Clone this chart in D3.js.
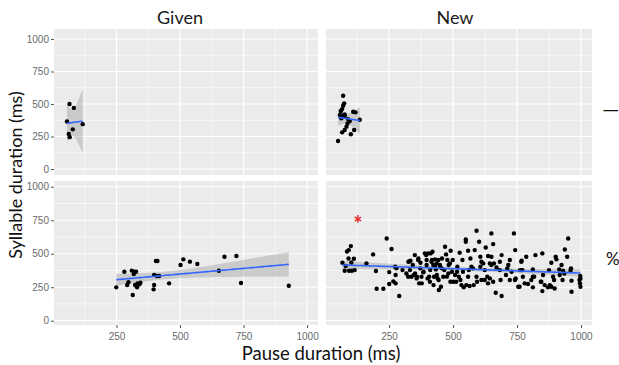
<!DOCTYPE html>
<html>
<head>
<meta charset="utf-8">
<script src="https://cdn.jsdelivr.net/npm/d3@7"></script>
<style>
body { margin: 0; background: #fff; }
svg { display: block; }
</style>
</head>
<body>
<script>
const columns = ["Given", "New"];
const rowLabels = ["\u2014", "%"];
const xTicks = [250, 500, 750, 1000];
const yTicks = [0, 250, 500, 750, 1000];
const minorTicks = [125, 375, 625, 875];

// [pause, syllable] in ms
const givenTop = [[65,500],[82,470],[55,365],[117,345],[78,305],[62,270],[66,245]];

const newTop = [[71,564],[75,505],[71,487],[67,461],[62,446],[58,415],[67,410],[77,420],
	[110,441],[119,436],[90,384],[97,369],[136,379],[88,351],[84,326],[77,300],[67,282],
	[114,300],[101,267],[51,215],[64,390],[77,402]];

const givenBottom = [[249,249],[281,366],[292,267],[297,287],[310,374],[318,349],[320,366],
	[327,366],[314,192],[323,267],[333,279],[340,272],[344,284],[331,249],[405,446],[411,446],
	[398,341],[409,334],[418,334],[398,267],[396,234],[457,279],[502,416],[513,458],[539,441],
	[568,423],[653,373],[675,478],[722,483],[740,281],[928,261]];

const newBottom = [
	[101,557],[93,527],[86,517],[92,465],[113,463],[68,433],[103,435],[81,408],[77,373],[94,373],
	[105,373],[116,378],[162,428],[188,495],[241,614],[260,535],[199,371],[251,363],[274,403],
	[202,239],[228,239],[251,274],[267,294],
	[276,341],[279,391],[276,279],[290,184],[303,378],[318,353],[328,440],[334,448],[325,328],
	[338,328],[347,341],[351,490],[358,316],[364,453],[368,279],[373,433],[377,328],[384,361],
	[390,503],[397,453],[397,416],[403,503],[407,328],[410,291],[413,503],[416,440],[420,515],
	[423,416],[426,328],[430,458],[433,383],[436,428],[440,316],[443,453],[445,229],[449,416],
	[453,254],[456,391],[462,328],[469,552],[473,495],[478,453],[482,353],[488,428],[491,522],
	[499,453],[501,291],[508,341],[512,291],[517,403],
	[592,672],[650,652],[738,652],[550,607],[550,590],[602,590],[657,572],[526,508],[559,522],
	[585,527],[628,547],[743,527],[537,453],[568,465],[607,478],[637,483],[650,478],[690,490],
	[611,440],[618,428],[644,428],[683,440],[722,453],[768,448],[572,403],[650,416],[670,398],
	[716,416],[516,366],[539,366],[578,391],[624,378],[683,378],[707,341],[729,366],[762,378],
	[523,328],[559,328],[592,328],[611,304],[644,316],[722,304],[742,304],[533,266],[542,249],
	[552,266],[565,259],[594,291],[624,304],[637,279],[657,291],[755,254],[667,209],[690,184],
	[950,614],[937,532],[901,478],[904,458],[786,478],[822,490],[849,503],[946,478],[767,440],
	[884,433],[924,416],[812,383],[875,378],[915,383],[930,373],[959,373],[767,378],[773,328],
	[812,328],[806,304],[852,341],[891,328],[917,341],[928,304],[963,299],[998,316],[996,279],
	[998,254],[780,279],[793,274],[845,291],[858,266],[871,249],[884,254],[897,241],[878,266],
	[812,249],[849,221],[963,216],[760,254],
	[326,441],[332,378],[343,416],[352,353],[359,329],[365,465],[372,391],[378,279],[385,366],
	[395,490],[401,316],[411,378],[418,453],[424,266],[431,416],[437,341],[444,304],[450,403],
	[457,465],[466,378],[476,329],[483,416],[490,291],[496,366],[529,304],[562,378],[581,266],
	[607,403],[634,329],[660,428],[686,304],[712,391],[745,316],[771,378],[817,329],[843,291],
	[895,304],[935,353],[961,391],[994,304],[997,334]];

const panelData = [[givenTop, newTop], [givenBottom, newBottom]];

const width = 619, height = 365;
const panelX = [[54, 318], [326, 592]];
const panelY = [[29, 175], [181, 325]];
const yDomains = [[-46, 1077], [-32, 1043]];
const xDomain = [4, 1043];

const svg = d3.select("body").append("svg")
	.attr("width", width)
	.attr("height", height)
	.style("font-family", "Lato, 'Open Sans', sans-serif");

// t quantile (0.975) by Cornish-Fisher expansion
function tq(df) {
	const z = 1.959964;
	const z3 = z*z*z, z5 = z3*z*z, z7 = z5*z*z;
	return z + (z3 + z)/(4*df) + (5*z5 + 16*z3 + 3*z)/(96*df*df)
		+ (3*z7 + 19*z5 + 17*z3 - 15*z)/(384*df*df*df);
}

// linear fit with 95% confidence band, like geom_smooth(method = "lm")
function smooth(d) {
	const n = d.length;
	const mx = d3.mean(d, p => p[0]), my = d3.mean(d, p => p[1]);
	let sxx = 0, sxy = 0;
	d.forEach(p => { sxx += (p[0]-mx)**2; sxy += (p[0]-mx)*(p[1]-my); });
	const b = sxy/sxx, a = my - b*mx;
	const rss = d3.sum(d, p => (p[1] - a - b*p[0])**2);
	const s = Math.sqrt(rss/(n-2)), t = tq(n-2);
	const [lo, hi] = d3.extent(d, p => p[0]);
	return d3.range(81).map(i => {
		const xv = lo + (hi-lo)*i/80;
		const fit = a + b*xv;
		const se = s*Math.sqrt(1/n + (xv-mx)**2/sxx);
		return {x: xv, fit: fit, lo: fit - t*se, hi: fit + t*se};
	});
}

const defs = svg.append("defs");

panelData.forEach((row, r) => {
	row.forEach((data, c) => {
		const x = d3.scaleLinear().domain(xDomain).range(panelX[c]);
		const y = d3.scaleLinear().domain(yDomains[r]).range([panelY[r][1], panelY[r][0]]);
		const id = "clip" + r + c;

		defs.append("clipPath").attr("id", id).append("rect")
			.attr("x", panelX[c][0]).attr("y", panelY[r][0])
			.attr("width", panelX[c][1]-panelX[c][0])
			.attr("height", panelY[r][1]-panelY[r][0]);

		const g = svg.append("g");
		g.append("rect")
			.attr("x", panelX[c][0]).attr("y", panelY[r][0])
			.attr("width", panelX[c][1]-panelX[c][0])
			.attr("height", panelY[r][1]-panelY[r][0])
			.attr("fill", "#EBEBEB");

		// grid
		g.selectAll(".vminor").data(minorTicks).join("line")
			.attr("x1", d => x(d)).attr("x2", d => x(d))
			.attr("y1", panelY[r][0]).attr("y2", panelY[r][1])
			.attr("stroke", "#fff").attr("stroke-width", 0.6);
		g.selectAll(".hminor").data(minorTicks).join("line")
			.attr("y1", d => y(d)).attr("y2", d => y(d))
			.attr("x1", panelX[c][0]).attr("x2", panelX[c][1])
			.attr("stroke", "#fff").attr("stroke-width", 0.6);
		g.selectAll(".vmajor").data(xTicks).join("line")
			.attr("x1", d => x(d)).attr("x2", d => x(d))
			.attr("y1", panelY[r][0]).attr("y2", panelY[r][1])
			.attr("stroke", "#fff").attr("stroke-width", 1.2);
		g.selectAll(".hmajor").data(yTicks).join("line")
			.attr("y1", d => y(d)).attr("y2", d => y(d))
			.attr("x1", panelX[c][0]).attr("x2", panelX[c][1])
			.attr("stroke", "#fff").attr("stroke-width", 1.2);

		const fit = smooth(data);
		const plot = g.append("g").attr("clip-path", "url(#" + id + ")");

		plot.append("path")
			.attr("d", d3.area().x(d => x(d.x)).y0(d => y(d.lo)).y1(d => y(d.hi))(fit))
			.attr("fill", "#999").attr("fill-opacity", 0.4);

		plot.selectAll("circle").data(data).join("circle")
			.attr("cx", d => x(d[0]))
			.attr("cy", d => y(d[1]))
			.attr("r", 2.2)
			.attr("fill", "#000");

		plot.append("path")
			.attr("d", d3.line().x(d => x(d.x)).y(d => y(d.fit))(fit))
			.attr("fill", "none").attr("stroke", "#3366FF").attr("stroke-width", 1.6);

		if (c === 0) {
			const ya = svg.append("g")
				.attr("transform", "translate(" + panelX[0][0] + ",0)")
				.call(d3.axisLeft(y).tickValues(yTicks).tickFormat(d3.format("d")).tickSize(3).tickPadding(2));
			ya.select(".domain").remove();
			ya.selectAll("line").attr("stroke", "#555");
			ya.selectAll("text").attr("fill", "#6a6a6a")
				.style("font-family", "'Liberation Sans', Arial, sans-serif").style("font-size", "10px");
		}
		if (r === 1) {
			const xa = svg.append("g")
				.attr("transform", "translate(0," + panelY[1][1] + ")")
				.call(d3.axisBottom(x).tickValues(xTicks).tickFormat(d3.format("d")).tickSize(3).tickPadding(5));
			xa.select(".domain").remove();
			xa.selectAll("line").attr("stroke", "#555");
			xa.selectAll("text").attr("fill", "#6a6a6a")
				.style("font-family", "'Liberation Sans', Arial, sans-serif").style("font-size", "10px");
		}
	});
});

// strip titles
const titleX = [180, 455];
svg.selectAll(".title").data(columns).join("text")
	.attr("x", (d, i) => titleX[i])
	.attr("y", 24)
	.attr("text-anchor", "middle")
	.attr("fill", "#1a1a1a")
	.style("font-size", "18px")
	.text(d => d);

// cut-off row labels on the right
const rowY = [117, 265];
svg.selectAll(".rowlab").data(rowLabels).join("text")
	.attr("x", (d, i) => i === 0 ? 602 : 606)
	.attr("y", (d, i) => rowY[i])
	.attr("fill", "#111")
	.style("font-size", (d, i) => i === 0 ? "22px" : "17px")
	.text(d => d);

// axis titles
svg.append("text")
	.attr("transform", "translate(22,175) rotate(-90)")
	.attr("text-anchor", "middle")
	.attr("fill", "#111")
	.style("font-size", "18px")
	.text("Syllable duration (ms)");

svg.append("text")
	.attr("x", 321)
	.attr("y", 360)
	.attr("text-anchor", "middle")
	.attr("fill", "#111")
	.style("font-size", "18.5px")
	.text("Pause duration (ms)");

// significance mark
svg.append("text")
	.attr("x", 358)
	.attr("y", 232)
	.attr("text-anchor", "middle")
	.attr("fill", "#E8262B")
	.style("font-size", "22px")
	.style("font-weight", "bold")
	.text("*");
</script>
</body>
</html>
